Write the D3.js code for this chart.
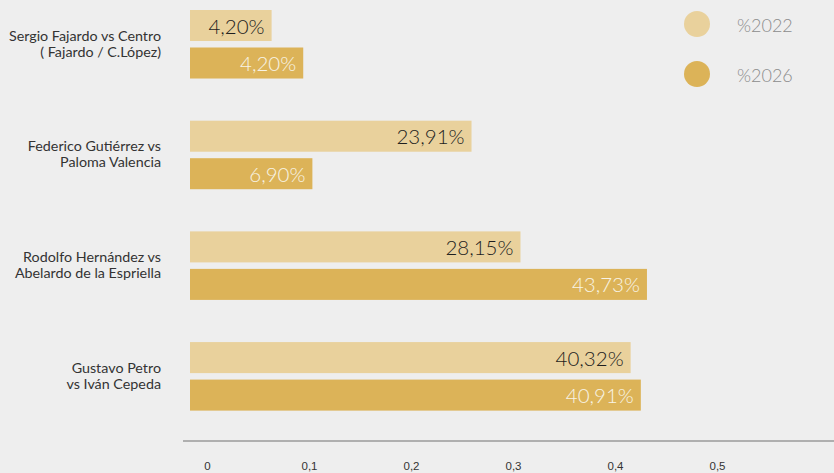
<!DOCTYPE html>
<html>
<head>
<meta charset="utf-8">
<script src="https://cdn.jsdelivr.net/npm/d3@7/dist/d3.min.js"></script>
<style>
  html, body { margin: 0; padding: 0; background: #eeeeee; }
  svg { display: block; }
</style>
</head>
<body>
<svg id="chart" width="834" height="473"></svg>
<script>
// ---- data ----
const categories = [
  ["Sergio Fajardo vs Centro", "( Fajardo / C.López)"],
  ["Federico Gutiérrez vs", "Paloma Valencia"],
  ["Rodolfo Hernández vs", "Abelardo de la Espriella"],
  ["Gustavo Petro", "vs Iván Cepeda"]
];
const seriesNames = ["%2022", "%2026"];
// printed labels
const labels2022 = ["4,20%", "23,91%", "28,15%", "40,32%"];
const labels2026 = ["4,20%", "6,90%", "43,73%", "40,91%"];
// bar lengths as drawn, read against the axis
const bar2022 = [0.080, 0.276, 0.324, 0.432];
const bar2026 = [0.111, 0.120, 0.448, 0.442];
const axisTicks = [0, 0.1, 0.2, 0.3, 0.4, 0.5];

const colors = { "%2022": "#e9d19c", "%2026": "#dcb358" };

// ---- layout ----
const svg = d3.select("#chart");
const W = 834, H = 473;
svg.append("rect").attr("width", W).attr("height", H).attr("fill", "#eeeeee");

const x = d3.scaleLinear().domain([0, 0.5]).range([190, 700]);
const catIds = categories.map((c, i) => i);
const y0 = d3.scaleBand().domain(catIds).range([10, 410.6]).paddingInner(0.381).paddingOuter(0);
const y1 = d3.scaleBand().domain(seriesNames).range([0, y0.bandwidth()]).paddingInner(0.173).paddingOuter(0);

const rows = catIds.map(i => ({
  i,
  bars: [
    { s: "%2022", v: bar2022[i], label: labels2022[i] },
    { s: "%2026", v: bar2026[i], label: labels2026[i] }
  ]
}));

const g = svg.append("g");
const grp = g.selectAll("g.grp").data(rows).join("g")
  .attr("class", "grp")
  .attr("transform", d => `translate(0,${y0(d.i)})`);

grp.selectAll("rect").data(d => d.bars).join("rect")
  .attr("x", x(0))
  .attr("y", d => y1(d.s))
  .attr("width", d => x(d.v) - x(0))
  .attr("height", y1.bandwidth())
  .attr("fill", d => colors[d.s]);

grp.selectAll("text.val").data(d => d.bars).join("text")
  .attr("class", "val")
  .attr("x", d => x(d.v) - 7)
  .attr("y", d => y1(d.s) + y1.bandwidth() / 2)
  .attr("text-anchor", "end")
  .attr("dominant-baseline", "central")
  .attr("font-family", "Lato, 'Open Sans', sans-serif")
  .attr("font-weight", 300)
  .attr("font-size", 20.5)
  .attr("fill", d => d.s === "%2022" ? "#1e1e1e" : "#f8f3e6")
  .text(d => d.label);

// category labels
grp.each(function(d) {
  const c = y0.bandwidth() / 2;
  const t = d3.select(this).append("text")
    .attr("text-anchor", "end")
    .attr("font-family", "Lato, 'Open Sans', sans-serif")
    .attr("font-size", 14.3)
    .attr("fill", "#333333");
  categories[d.i].forEach((line, k) => {
    t.append("tspan")
      .attr("x", 161)
      .attr("y", c - 9 + k * 16)
      .attr("dominant-baseline", "central")
      .text(line);
  });
});

// axis
svg.append("line")
  .attr("x1", 183).attr("x2", W)
  .attr("y1", 441).attr("y2", 441)
  .attr("stroke", "#9a9a9a").attr("stroke-width", 1.6);

const locale = d3.formatLocale({ decimal: ",", thousands: ".", grouping: [3], currency: ["", ""] });
const fmt = locale.format("~g");
const axis = d3.axisBottom(x).tickValues(axisTicks).tickSize(0).tickFormat(fmt);
const ax = svg.append("g").attr("transform", "translate(0,459)").call(axis);
ax.select(".domain").remove();
ax.selectAll("text")
  .attr("dx", 17)
  .attr("font-family", "'Liberation Sans', Arial, sans-serif")
  .attr("font-size", 11.5)
  .attr("fill", "#333333");

// legend
const leg = svg.append("g");
const legItems = leg.selectAll("g").data(seriesNames).join("g")
  .attr("transform", (d, i) => `translate(697,${24 + i * 50})`);
legItems.append("circle").attr("r", 13).attr("fill", d => colors[d]);
legItems.append("text")
  .attr("x", 40)
  .attr("y", 1)
  .attr("dominant-baseline", "central")
  .attr("font-family", "Lato, 'Open Sans', sans-serif")
  .attr("font-weight", 300)
  .attr("font-size", 18)
  .attr("fill", "#8c8c8c")
  .text(d => d);
</script>
</body>
</html>
